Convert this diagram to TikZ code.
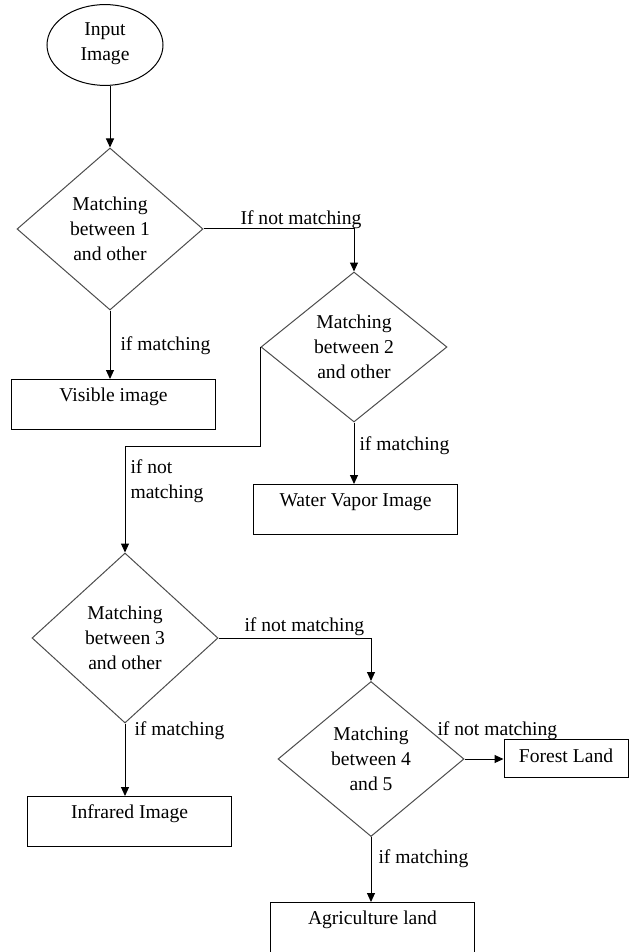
\documentclass[tikz,border=0pt]{standalone}
\usepackage{fontspec}
\setmainfont{Liberation Serif}
\usetikzlibrary{shapes.geometric}
\usetikzlibrary{arrows.meta}

\begin{document}
\begin{tikzpicture}[x=0.5pt,y=-0.5pt,line width=0.5pt,>={Triangle[length=4.5pt,width=4pt]},
    font=\fontsize{9.8}{12.5}\selectfont]
    \useasboundingbox (0,0) rectangle (638,952);
    \tikzset{
      test/.style={diamond,draw=black!70,inner sep=0pt,align=center,minimum width=93pt},
      outbox/.style={draw,rectangle,anchor=north,inner sep=0pt,minimum width=102pt,text height=11pt,text depth=14pt},
      lbl/.style={anchor=base west,inner sep=0pt}
    }
    % Start:
    \node [ellipse,draw,minimum width=58pt,minimum height=38pt,align=center,text depth=3pt] (input) at (105,45) {Input\\Image};

    % Decisions, one per band:
    \node [test,minimum height=81pt] (m1) at (110,229) {Matching\\between 1\\and other};
    \node [test,minimum height=75pt] (m2) at (354,347) {Matching\\between 2\\and other};
    \node [test,minimum height=85pt] (m3) at (125,638) {Matching\\between 3\\and other};
    \node [test,minimum height=77.5pt] (m4) at (371,759) {Matching\\between 4\\and 5};

    % Results:
    \node [outbox] (visible) at (113.5,379) {Visible image};
    \node [outbox] (vapor) at (355.5,484) {Water Vapor Image};
    \node [outbox] (infrared) at (129.5,796) {Infrared Image};
    \node [outbox,text depth=20pt] (agri) at (372.5,902) {Agriculture land};
    \node [outbox,minimum width=62pt,text height=11.5pt,text depth=7.5pt] (forest) at (566,739) {Forest Land};

    % Arrows:
    \draw [->] (m1.north |- input.south) -- (m1.north);
    \draw [->] (m1.east) -| (m2.north);
    \draw [->] (m1.south) -- (m1.south |- visible.north);
    \draw [->] (m2.south) -- (m2.south |- vapor.north);
    \draw [->] (m2.west) -- ++(0,99) -| (m3.north);
    \draw [->] (m3.east) -| (m4.north);
    \draw [->] (m3.south) -- (m3.south |- infrared.north);
    \draw [->] (m4.east) -- (m4.east -| forest.west);
    \draw [->] (m4.south) -- (m4.south |- agri.north);

    % Labels:
    \node [lbl] (l1) at (240,225) {If not matching};
    \node [lbl] (l2) at (120,350) {if matching};
    \node [lbl] (l3) at (359,450) {if matching};
    \node [lbl,align=left] (l4) at (130,498) {if not\\matching};
    \node [lbl] (l5) at (244,631) {if not matching};
    \node [lbl] (l6) at (134,735) {if matching};
    \node [lbl] (l7) at (437,735) {if not matching};
    \node [lbl] (l8) at (378,863) {if matching};
\end{tikzpicture}
\end{document}
